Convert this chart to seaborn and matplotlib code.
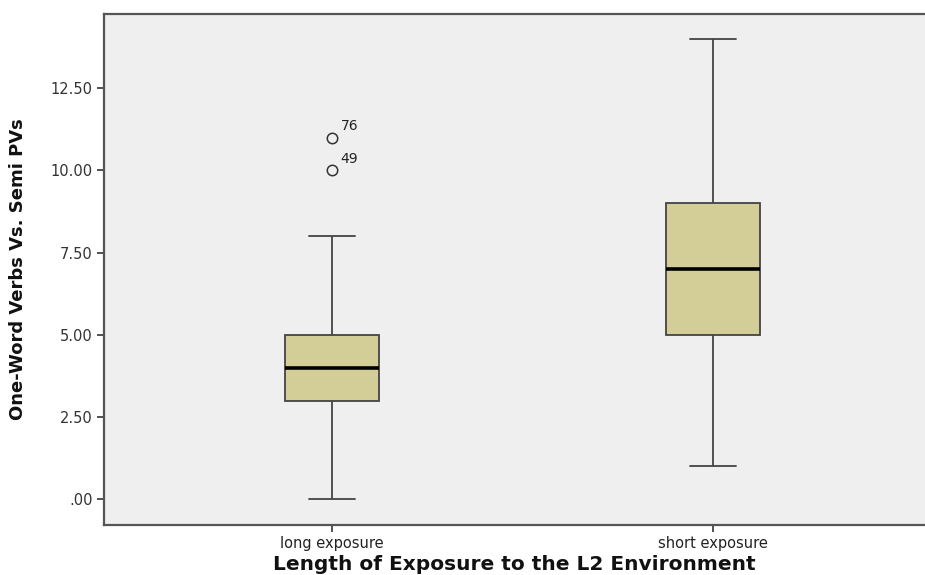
import matplotlib
matplotlib.use("Agg")
import matplotlib.pyplot as plt
from matplotlib import font_manager
import seaborn as sns
import pandas as pd

# Scores per group
groups = ["long exposure", "short exposure"]
long_scores = [0, 1, 2, 3, 3, 3, 3, 4, 4, 4, 4, 4, 5, 5, 5, 5, 6, 7, 8, 10, 11]
short_scores = [1, 2, 4, 5, 5, 5, 6, 6, 7, 7, 7, 7, 8, 8, 9, 9, 9, 10, 11, 12, 14]

# Case labels for the outlying points of the long-exposure group
outlier_values = [11, 10]
outlier_cases = ["76", "49"]

yticks = [0, 2.5, 5.0, 7.5, 10.0, 12.5]
ytick_labels = [".00", "2.50", "5.00", "7.50", "10.00", "12.50"]

df = pd.DataFrame({
    "group": [groups[0]] * len(long_scores) + [groups[1]] * len(short_scores),
    "score": long_scores + short_scores,
})

sns.set_style("white")

# Pick a narrow bold face for the y-axis title if one is installed
installed = {f.name for f in font_manager.fontManager.ttflist}
narrow = None
for cand in ["Liberation Sans Narrow", "DejaVu Sans Condensed"]:
    if cand in installed:
        narrow = cand
        break
if narrow:
    ylab_font = dict(family=[narrow, "DejaVu Sans"], fontsize=15.5)
else:
    ylab_font = dict(family=["DejaVu Sans"], fontsize=13)

fig = plt.figure(figsize=(9.25, 5.75), dpi=100)
ax = fig.add_axes([103.5 / 925, 1 - 524.5 / 575, 1 - 103.5 / 925, (524.5 - 13.5) / 575])
ax.set_facecolor("#EFEFEF")

edge = "#444444"
sns.boxplot(
    data=df, x="group", y="score", order=groups, ax=ax,
    color="#D3CE98", saturation=1, width=0.245, whis=1.5,
    linecolor=edge, linewidth=1.3,
    medianprops=dict(color="black", linewidth=2.6),
    flierprops=dict(marker="o", markersize=7.5, markerfacecolor="none",
                    markeredgecolor="#333333", markeredgewidth=1.1),
)

for val, case in zip(outlier_values, outlier_cases):
    ax.annotate(case, xy=(0, val), xytext=(6, 3), textcoords="offset points",
                fontsize=10, color="#222222", ha="left", va="bottom")

ax.set_xlim(-0.6, 1.556)
ax.set_ylim(-0.766, 14.77)
ax.set_yticks(yticks)
ax.set_yticklabels(ytick_labels, fontsize=10.5, color="#333333", family="DejaVu Sans")
ax.set_xticks([0, 1])
ax.set_xticklabels(groups, fontsize=10.5, color="#222222", family="DejaVu Sans")
ax.tick_params(axis="both", direction="out", length=5, width=1.2, color="#333333",
               left=True, bottom=True, pad=3)

for side in ["left", "bottom", "top"]:
    ax.spines[side].set_visible(True)
    ax.spines[side].set_color("#555555")
    ax.spines[side].set_linewidth(1.6)
ax.spines["right"].set_visible(False)

ax.set_xlabel("Length of Exposure to the L2 Environment", fontsize=14.5,
              fontweight="bold", family="DejaVu Sans", color="#111111", labelpad=3)
ax.set_ylabel("One-Word Verbs Vs. Semi PVs", fontweight="bold",
              color="#111111", labelpad=17, **ylab_font)

fig.savefig("out.png", dpi=100)
